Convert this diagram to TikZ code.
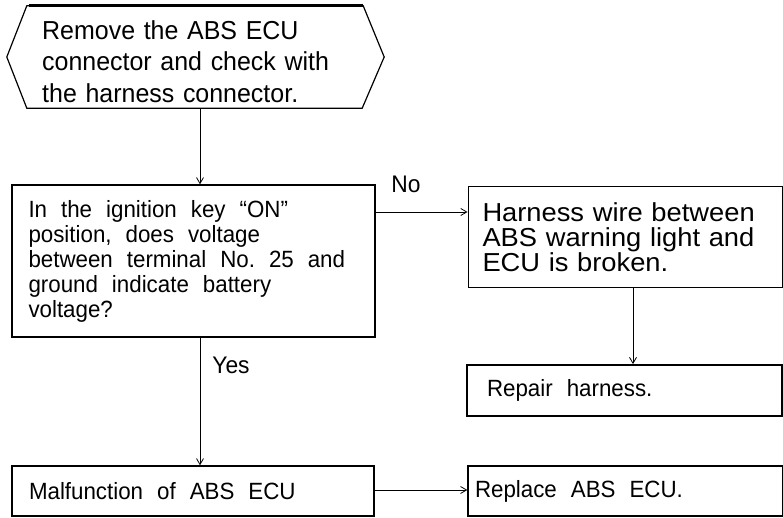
\documentclass[tikz,border=0pt]{standalone}
\usepackage{fontspec}
\setmainfont{Liberation Sans}
\newfontfamily\boxfont[FakeStretch=0.95]{Liberation Sans}
\newfontfamily\widefont[FakeStretch=1.05]{Liberation Sans}
\newfontfamily\hexfont[FakeStretch=0.96]{Liberation Sans}
\newcommand{\boxtext}[2]{\boxfont\fontsize{#1}{#2}\selectfont}
\newcommand{\widews}{\spaceskip=14pt plus 2pt minus 1pt\xspaceskip=14pt plus 2pt\relax}
\usetikzlibrary{arrows.meta}
\begin{document}
\begin{tikzpicture}[x=1pt,y=-1pt,
  flowbox/.style={draw, line width=1.4pt, inner sep=0pt, align=left},
  arr/.style={line width=0.8pt, -{Straight Barb[length=6pt,width=7pt,line width=0.8pt]}},
  lbl/.style={font=\boxtext{24}{25}, inner sep=0pt}]
\useasboundingbox (0,0) rectangle (783,518);

% hexagon (start)
\node[inner sep=0pt, minimum width=377pt, minimum height=102pt] (hex) at (195.5,57) {};
\draw[line width=1.2pt] (hex.west) -- ([xshift=20pt]hex.north west) -- ([xshift=-21pt]hex.north east)
  -- (hex.east) -- ([xshift=-22pt]hex.south east) -- ([xshift=20pt]hex.south west) -- cycle;
\draw[line width=2.6pt] ([xshift=22pt]hex.north west) -- ([xshift=-21pt]hex.north east);
\node[anchor=west, inner sep=0pt, text width=320pt, align=left,
  font=\hexfont\fontsize{26}{31.5}\selectfont] (hextxt) at (42,61.5)
  {Remove the ABS ECU\\connector and check with\\the harness connector.};

% decision box
\node[flowbox, minimum width=363pt, minimum height=152pt, text width=330pt,
  font=\boxtext{23.5}{25}] (check) at (193.5,261)
  {\widews In the ignition key “ON”\\
   position, does voltage\\
   between terminal No. 25 and\\
   ground indicate battery\\
   voltage?};

% harness box
\node[flowbox, line width=1pt, minimum width=314pt, minimum height=100pt, text width=285pt,
  font=\widefont\fontsize{26}{25}\selectfont] (harness) at (625,237)
  {Harness wire between\\ABS warning light and\\ECU is broken.};

% repair box
\node[flowbox, line width=1.8pt, minimum width=315pt, minimum height=51pt, text width=275pt,
  font=\boxtext{23.5}{25}] (repair) at (624.5,390.5) {\widews Repair harness.};

% malfunction box
\node[flowbox, minimum width=362pt, minimum height=50pt, text width=328pt,
  font=\boxtext{23.5}{25}] (malf) at (193,491) {\widews Malfunction of ABS ECU};

% replace box
\node[flowbox, minimum width=315pt, minimum height=50pt, text width=301pt,
  font=\boxtext{23.5}{25}] (replace) at (625.5,491) {\widews Replace ABS ECU.};

% labels
\node[lbl] (no) at (406,184) {No};
\node[lbl] (yes) at (231,365) {Yes};

% connectors
\draw[arr] ([xshift=4.5pt]hex.south) -- ([xshift=4.5pt]hex.south |- check.north);
\draw[arr] (check.east |- 0,212) -- (harness.west |- 0,212);
\draw[arr] (harness.south -| 633,0) -- (repair.north -| 633,0);
\draw[arr] (check.south -| 200,0) -- (malf.north -| 200,0);
\draw[arr] (malf.east |- 0,490) -- (replace.west |- 0,490);
\end{tikzpicture}
\end{document}
